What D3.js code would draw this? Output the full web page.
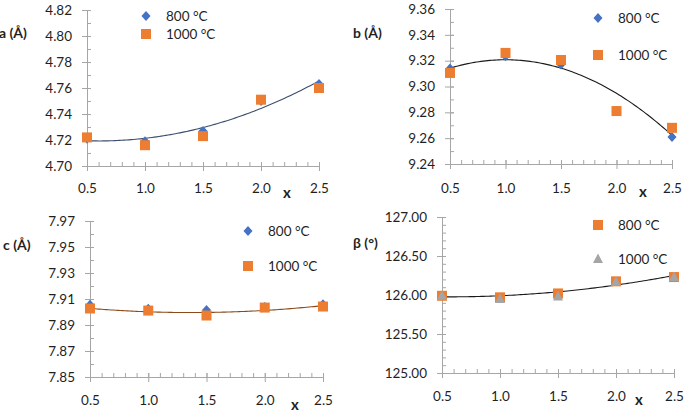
<!DOCTYPE html>
<html>
<head>
<meta charset="utf-8">
<script src="https://cdn.jsdelivr.net/npm/d3@7"></script>
<style>
  html, body { margin: 0; padding: 0; background: #fff; }
  svg { display: block; font-family: Lato, "Open Sans", sans-serif; }
</style>
</head>
<body>
<svg id="chart" width="685" height="414"></svg>
<script>
// ---------- data ----------
const xValues = [0.5, 1.0, 1.5, 2.0, 2.5];
const xMajorTicks = [0.5, 1.0, 1.5, 2.0, 2.5];

const a800  = [4.721, 4.719, 4.727, 4.750, 4.763];
const a1000 = [4.722, 4.716, 4.723, 4.751, 4.760];
const aTicks = [4.70, 4.72, 4.74, 4.76, 4.78, 4.80, 4.82];

const b800  = [9.314, 9.3235, 9.317, 9.281, 9.261];
const b1000 = [9.3105, 9.326, 9.3205, 9.281, 9.268];
const bTicks = [9.24, 9.26, 9.28, 9.30, 9.32, 9.34, 9.36];

const c800  = [7.9055, 7.9025, 7.9015, 7.9038, 7.906];
const c1000 = [7.9027, 7.9011, 7.8973, 7.9034, 7.9042];
const cTicks = [7.85, 7.87, 7.89, 7.91, 7.93, 7.95, 7.97];

const beta800  = [125.99, 125.97, 126.02, 126.175, 126.23];
const beta1000 = [125.99, 125.95, 125.98, 126.17, 126.23];
const betaTicks = [125.00, 125.50, 126.00, 126.50, 127.00];

const seriesNames = ["800 °C", "1000 °C"];

// ---------- helpers ----------
const svg = d3.select("#chart");
svg.append("rect").attr("width", 685).attr("height", 414).attr("fill", "#fff");

const AXIS = "#a6a6a6", TEXT = "#1f1f1f";
const BLUE = "#4472C4", ORANGE = "#ED7D31", GREY = "#A5A5A5";

function quadFit(xs, ys) {
  const n = xs.length;
  let S = [0,0,0,0,0], T = [0,0,0];
  for (let i = 0; i < n; i++) {
    for (let k = 0; k < 5; k++) S[k] += Math.pow(xs[i], k);
    for (let k = 0; k < 3; k++) T[k] += ys[i] * Math.pow(xs[i], k);
  }
  const M = [[S[0],S[1],S[2],T[0]],[S[1],S[2],S[3],T[1]],[S[2],S[3],S[4],T[2]]];
  for (let i = 0; i < 3; i++) {
    for (let j = i + 1; j < 3; j++) {
      const f = M[j][i] / M[i][i];
      for (let k = i; k < 4; k++) M[j][k] -= f * M[i][k];
    }
  }
  const c = [0,0,0];
  for (let i = 2; i >= 0; i--) {
    let s = M[i][3];
    for (let k = i + 1; k < 3; k++) s -= M[i][k] * c[k];
    c[i] = s / M[i][i];
  }
  return x => c[0] + c[1]*x + c[2]*x*x;
}

function marker(g, type, cx, cy, color) {
  if (type === "square") {
    g.append("rect").attr("x", cx - 5).attr("y", cy - 5).attr("width", 10).attr("height", 10).attr("fill", color);
  } else if (type === "diamond") {
    g.append("path").attr("d", `M${cx},${cy-5}L${cx+4.5},${cy}L${cx},${cy+5}L${cx-4.5},${cy}Z`).attr("fill", color);
  } else {
    g.append("path").attr("d", `M${cx},${cy-5.5}L${cx+5},${cy+4}L${cx-5},${cy+4}Z`).attr("fill", color);
  }
}

function panel(cfg) {
  const x = d3.scaleLinear().domain([0.5, 2.5]).range([cfg.x0, cfg.x1]);
  const y = d3.scaleLinear().domain([cfg.ticks[0], cfg.ticks[cfg.ticks.length-1]]).range([cfg.y0, cfg.y1]);
  const g = svg.append("g");

  // minor y ticks (inside)
  const yMinor = d3.range(0, Math.round((cfg.ticks[cfg.ticks.length-1]-cfg.ticks[0])/cfg.yMinorStep)+1)
    .map(i => cfg.ticks[0] + i*cfg.yMinorStep);
  const ym = g.append("g").attr("transform", `translate(${cfg.x0},0)`)
    .call(d3.axisLeft(y).tickValues(yMinor).tickSize(-4).tickFormat(""));
  ym.select(".domain").remove();
  ym.selectAll("line").attr("stroke", AXIS);

  // minor x ticks (inside)
  const xMinor = d3.range(0, 21).map(i => 0.5 + i*0.1);
  const xm = g.append("g").attr("transform", `translate(0,${cfg.y0})`)
    .call(d3.axisBottom(x).tickValues(xMinor).tickSize(-4).tickFormat(""));
  xm.select(".domain").remove();
  xm.selectAll("line").attr("stroke", AXIS);

  // major y axis
  const ya = g.append("g").attr("transform", `translate(${cfg.x0},0)`)
    .call(d3.axisLeft(y).tickValues(cfg.ticks).tickSize(5).tickSizeOuter(0).tickPadding(10).tickFormat(d3.format(cfg.yFmt)));
  ya.select(".domain").attr("stroke", AXIS);
  ya.selectAll(".tick line").attr("stroke", AXIS).attr("x1", 4);
  ya.selectAll("text").attr("fill", TEXT).style("font-size", "13.5px").style("font-family", "Lato, sans-serif");

  // major x axis
  const xa = g.append("g").attr("transform", `translate(0,${cfg.y0})`)
    .call(d3.axisBottom(x).tickValues(xMajorTicks).tickSize(5).tickSizeOuter(0).tickPadding(cfg.xPad).tickFormat(d3.format(".1f")));
  xa.select(".domain").attr("stroke", AXIS);
  xa.selectAll(".tick line").attr("stroke", AXIS).attr("y1", -4);
  xa.selectAll("text").attr("fill", TEXT).style("font-size", "13.5px").style("font-family", "Lato, sans-serif");

  // trend line
  const f = quadFit(xValues, cfg.fitSeries);
  const pts = d3.range(0, 101).map(i => 0.5 + i*0.02);
  g.append("path").datum(pts)
    .attr("d", d3.line().x(d => x(d)).y(d => y(f(d))))
    .attr("fill", "none").attr("stroke", cfg.fitColor).attr("stroke-width", 1.1);

  // points
  cfg.series.forEach(s => {
    s.values.forEach((v, i) => marker(g, s.type, x(xValues[i]), y(v), s.color));
  });

  // legend
  cfg.series.forEach((s, i) => {
    const ly = cfg.legY[i];
    marker(g, s.type, cfg.legX, ly, s.color);
    g.append("text").attr("x", cfg.legX + 20).attr("y", ly).attr("dy", "0.35em")
      .attr("fill", TEXT).style("font-size", "13.5px").text(s.name);
  });

  // axis titles
  g.append("text").attr("x", cfg.titleX).attr("y", cfg.titleY).attr("dy", "0.35em")
    .attr("fill", TEXT).style("font-size", "14px").style("font-weight", "bold").text(cfg.title);
  g.append("text").attr("x", cfg.xlabX).attr("y", cfg.xlabY).attr("dy", "0.35em").attr("text-anchor", "middle")
    .attr("fill", TEXT).style("font-size", "15px").style("font-weight", "bold").text("x");
}

panel({
  x0: 87, x1: 319, y0: 166, y1: 10, ticks: aTicks, yMinorStep: 0.01, yFmt: ".2f", xPad: 12,
  fitSeries: a800, fitColor: "#3B4E6E",
  series: [
    {name: seriesNames[0], values: a800, type: "diamond", color: BLUE},
    {name: seriesNames[1], values: a1000, type: "square", color: ORANGE}
  ],
  legX: 146, legY: [16, 34],
  title: "a (Å)", titleX: -1, titleY: 33, xlabX: 287, xlabY: 193
});

panel({
  x0: 450, x1: 672, y0: 164, y1: 9, ticks: bTicks, yMinorStep: 0.01, yFmt: ".2f", xPad: 14,
  fitSeries: b1000, fitColor: "#1a1a1a",
  series: [
    {name: seriesNames[0], values: b800, type: "diamond", color: BLUE},
    {name: seriesNames[1], values: b1000, type: "square", color: ORANGE}
  ],
  legX: 598, legY: [18, 55],
  title: "b (Å)", titleX: 353, titleY: 33, xlabX: 643, xlabY: 192
});

panel({
  x0: 90, x1: 323, y0: 377, y1: 221, ticks: cTicks, yMinorStep: 0.01, yFmt: ".2f", xPad: 13,
  fitSeries: c1000, fitColor: "#8C4A1A",
  series: [
    {name: seriesNames[0], values: c800, type: "diamond", color: BLUE},
    {name: seriesNames[1], values: c1000, type: "square", color: ORANGE}
  ],
  legX: 248, legY: [231, 266],
  title: "c (Å)", titleX: 3, titleY: 245, xlabX: 295, xlabY: 405
});

panel({
  x0: 442, x1: 674, y0: 373, y1: 217, ticks: betaTicks, yMinorStep: 0.1, yFmt: ".2f", xPad: 13,
  fitSeries: beta800, fitColor: "#1a1a1a",
  series: [
    {name: seriesNames[0], values: beta800, type: "square", color: ORANGE},
    {name: seriesNames[1], values: beta1000, type: "triangle", color: GREY}
  ],
  legX: 598, legY: [225, 259],
  title: "β (°)", titleX: 353, titleY: 243, xlabX: 639, xlabY: 400
});
</script>
</body>
</html>
